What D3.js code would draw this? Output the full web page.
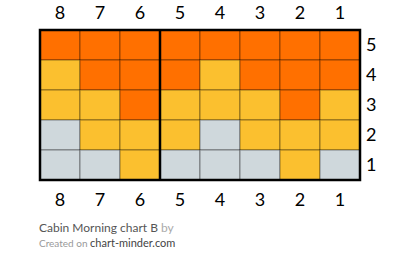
<!DOCTYPE html>
<html>
<head>
<meta charset="utf-8">
<script src="https://cdn.jsdelivr.net/npm/d3@7"></script>
<style>
  body { margin: 0; background: #fff; }
  text { font-family: Lato, sans-serif; }
</style>
</head>
<body>
<script>
var columns = ['8', '7', '6', '5', '4', '3', '2', '1'],
    rows = ['5', '4', '3', '2', '1'];

// one string per row (top to bottom), one letter per column: o = orange, y = yellow, g = grey
var row5 = ['o', 'o', 'o', 'o', 'o', 'o', 'o', 'o'],
    row4 = ['y', 'o', 'o', 'o', 'y', 'o', 'o', 'o'],
    row3 = ['y', 'y', 'o', 'y', 'y', 'y', 'o', 'y'],
    row2 = ['g', 'y', 'y', 'y', 'g', 'y', 'y', 'y'],
    row1 = ['g', 'g', 'y', 'g', 'g', 'g', 'y', 'g'];

var grid = [row5, row4, row3, row2, row1];
var colours = { o: '#ff7000', y: '#fbc02f', g: '#cfd8dc' };

var cells = [];
grid.forEach(function(r, i) {
    r.forEach(function(c, j) {
        cells.push({ row: rows[i], col: columns[j], kind: c });
    });
});

var width = 400,
    height = 273,
    margin = { top: 30, right: 40, bottom: 93, left: 40 };

var x = d3.scaleBand()
        .domain(columns)
        .range([margin.left, width - margin.right]);

var y = d3.scaleBand()
        .domain(rows)
        .range([margin.top, height - margin.bottom]);

var svg = d3.select('body')
        .append('svg')
         .attr('width', width)
         .attr('height', height);

svg.selectAll('rect.cell')
    .data(cells)
    .enter()
    .append('rect')
     .attr('class', 'cell')
     .attr('x', function(d) { return x(d.col); })
     .attr('y', function(d) { return y(d.row); })
     .attr('width', x.bandwidth())
     .attr('height', y.bandwidth())
     .attr('fill', function(d) { return colours[d.kind]; })
     .attr('stroke', 'rgba(0,0,0,0.4)')
     .attr('stroke-width', 1);

// thick divider between 6 and 5
svg.append('line')
    .attr('x1', x('5')).attr('x2', x('5'))
    .attr('y1', y('5')).attr('y2', y('1') + y.bandwidth())
    .attr('stroke', '#000')
    .attr('stroke-width', 2.5);

// outer frame
svg.append('rect')
    .attr('x', x.range()[0])
    .attr('y', y.range()[0])
    .attr('width', x.range()[1] - x.range()[0])
    .attr('height', y.range()[1] - y.range()[0])
    .attr('fill', 'none')
    .attr('stroke', '#000')
    .attr('stroke-width', 2.5);

var xTop = d3.axisTop(x).tickSize(0).tickPadding(11);
var xBottom = d3.axisBottom(x).tickSize(0).tickPadding(13);
var yRight = d3.axisRight(y).tickSize(0).tickPadding(6);

function styleAxis(g) {
    g.select('.domain').remove();
    g.selectAll('text')
        .attr('fill', '#000')
        .style('font-family', 'Lato, sans-serif')
        .style('font-size', '18px');
}

svg.append('g')
    .attr('transform', 'translate(0,' + margin.top + ')')
    .call(xTop)
    .call(styleAxis);

svg.append('g')
    .attr('transform', 'translate(0,' + (height - margin.bottom) + ')')
    .call(xBottom)
    .call(styleAxis);

svg.append('g')
    .attr('transform', 'translate(' + (width - margin.right) + ',0)')
    .call(yRight)
    .call(styleAxis);

var title = svg.append('text')
    .attr('x', 39)
    .attr('y', 232)
    .style('font-size', '12px');
title.append('tspan').attr('fill', '#555').text('Cabin Morning chart B');
title.append('tspan').attr('fill', '#aaa').text(' by');

var credit = svg.append('text')
    .attr('x', 39)
    .attr('y', 247);
credit.append('tspan').attr('fill', '#999').style('font-size', '10px').text('Created on ');
credit.append('tspan').attr('fill', '#444').style('font-size', '11px').text('chart-minder.com');
</script>
</body>
</html>
